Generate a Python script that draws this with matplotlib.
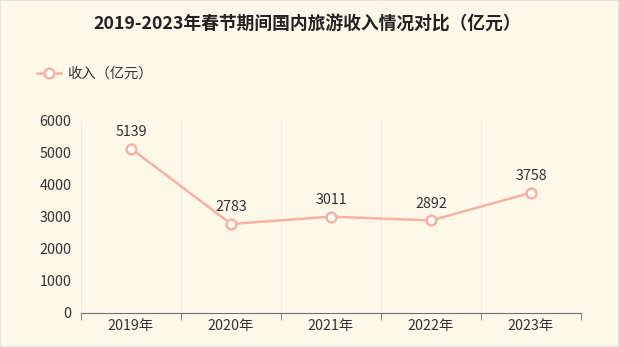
import matplotlib
matplotlib.use("Agg")
import matplotlib.pyplot as plt
from matplotlib.lines import Line2D

plt.rcParams['font.family'] = ['Noto Sans CJK SC', 'DejaVu Sans']

# data
years = ['2019年', '2020年', '2021年', '2022年', '2023年']
income = [5139, 2783, 3011, 2892, 3758]
title = '2019-2023年春节期间国内旅游收入情况对比（亿元）'
series_name = '收入（亿元）'

bg = '#fef8eb'
line_color = '#f5b3a1'
text_color = '#333333'

fig = plt.figure(figsize=(6.19, 3.47), dpi=100, facecolor=bg)
ax = fig.add_axes([81 / 619, 34 / 347, 500 / 619, 192 / 347], facecolor=bg)

x = list(range(len(years)))
ax.plot(x, income, color=line_color, linewidth=1.8, marker='o', markersize=7,
        markerfacecolor='white', markeredgecolor=line_color, markeredgewidth=1.8,
        zorder=3, clip_on=False)
for xi, v in zip(x, income):
    ax.annotate(str(v), (xi, v), xytext=(0, 7), textcoords='offset points',
                ha='center', va='bottom', fontsize=10.3, color=text_color)

ax.set_xlim(-0.5, len(years) - 0.5)
ax.set_ylim(0, 6000)
ax.set_yticks(range(0, 6001, 1000))
ax.set_xticks(x)
ax.set_xticklabels(years)
ax.set_xticks([i - 0.5 for i in range(len(years) + 1)], minor=True)

# faint vertical split lines between categories
for b in [i - 0.5 for i in range(len(years) + 1)]:
    ax.axvline(b, color='#f0ebe0', linewidth=0.8, zorder=0)

for s in ['top', 'right', 'left']:
    ax.spines[s].set_visible(False)
ax.spines['bottom'].set_color('#6e7079')
ax.tick_params(axis='x', which='major', length=0, pad=4, labelsize=10.3, labelcolor=text_color)
ax.tick_params(axis='x', which='minor', length=5, color='#6e7079')
ax.tick_params(axis='y', length=0, pad=7, labelsize=10.3, labelcolor=text_color)

fig.text(307 / 619, 1 - 25 / 347, title, ha='center', va='center', fontsize=12.8,
         fontweight='bold', color='#222222')

# legend
handle = Line2D([0], [0], color=line_color, linewidth=1.8, marker='o', markersize=7,
                markerfacecolor='white', markeredgecolor=line_color, markeredgewidth=1.8)
fig.legend([handle], [series_name], loc='center left',
           bbox_to_anchor=(24 / 619, 1 - 74 / 347), frameon=False, fontsize=10.3,
           handlelength=1.7, handletextpad=0.4, labelcolor=text_color)

fig.patches.append(plt.Rectangle((0, 0), 1, 1, transform=fig.transFigure, fill=False,
                                 edgecolor='#e6e3dc', linewidth=1.5))

fig.savefig('out.png', dpi=100, facecolor=bg)
